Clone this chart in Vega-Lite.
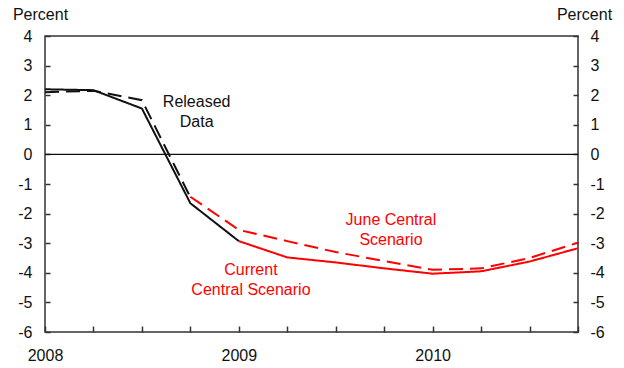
{
  "$schema": "https://vega.github.io/schema/vega-lite/v6.json",
  "width": 533,
  "height": 296,
  "autosize": {"type": "none"},
  "padding": {"left": 45, "top": 36, "right": 46, "bottom": 36},
  "background": "white",
  "config": {
    "font": "Liberation Sans",
    "view": {"stroke": "#333333", "strokeWidth": 1.5},
    "axis": {"grid": false, "domain": false, "labelFont": "Liberation Sans", "labelFontSize": 16, "labelColor": "#111111", "tickColor": "#333333", "tickWidth": 1.5, "titleFont": "Liberation Sans", "titleFontSize": 16, "titleFontWeight": "normal", "titleColor": "#111111"}
  },
  "datasets": {
    "lines": [
      {"series": "Released", "q": 0, "value": 2.2},
      {"series": "Released", "q": 1, "value": 2.17},
      {"series": "Released", "q": 2, "value": 1.55},
      {"series": "Released", "q": 3, "value": -1.65},
      {"series": "Released", "q": 4, "value": -2.93},
      {"series": "Released (June)", "q": 0, "value": 2.1},
      {"series": "Released (June)", "q": 1, "value": 2.15},
      {"series": "Released (June)", "q": 2, "value": 1.83},
      {"series": "Released (June)", "q": 3, "value": -1.45},
      {"series": "Current Central Scenario", "q": 4, "value": -2.93},
      {"series": "Current Central Scenario", "q": 5, "value": -3.48},
      {"series": "Current Central Scenario", "q": 6, "value": -3.65},
      {"series": "Current Central Scenario", "q": 7, "value": -3.85},
      {"series": "Current Central Scenario", "q": 8, "value": -4.03},
      {"series": "Current Central Scenario", "q": 9, "value": -3.95},
      {"series": "Current Central Scenario", "q": 10, "value": -3.62},
      {"series": "Current Central Scenario", "q": 11, "value": -3.17},
      {"series": "June Central Scenario", "q": 3, "value": -1.43},
      {"series": "June Central Scenario", "q": 4, "value": -2.55},
      {"series": "June Central Scenario", "q": 5, "value": -2.93},
      {"series": "June Central Scenario", "q": 6, "value": -3.3},
      {"series": "June Central Scenario", "q": 7, "value": -3.6},
      {"series": "June Central Scenario", "q": 8, "value": -3.9},
      {"series": "June Central Scenario", "q": 9, "value": -3.85},
      {"series": "June Central Scenario", "q": 10, "value": -3.5},
      {"series": "June Central Scenario", "q": 11, "value": -2.98}
    ],
    "blackLabels": [
      {"q": 3.13, "value": 1.78, "label": "Released\nData"}
    ],
    "redLabels": [
      {"q": 7.14, "value": -2.2, "label": "June Central\nScenario"},
      {"q": 4.25, "value": -3.9, "label": "Current\nCentral Scenario"}
    ],
    "zero": [{"value": 0}]
  },
  "resolve": {"axis": {"y": "independent"}},
  "layer": [
    {
      "data": {"name": "zero"},
      "mark": {"type": "rule", "color": "#111111", "strokeWidth": 1.3},
      "encoding": {
        "y": {"field": "value", "type": "quantitative", "scale": {"domain": [-6, 4], "nice": false, "zero": false},
          "axis": {"orient": "left", "values": [-6, -5, -4, -3, -2, -1, 0, 1, 2, 3, 4], "tickSize": -5, "labelPadding": 18,
            "labelExpr": "datum.value < 0 ? '-' + abs(datum.value) : '' + datum.value",
            "title": "Percent", "titleAngle": 0, "titleAlign": "center", "titleBaseline": "middle", "titleX": -5, "titleY": -22}}
      }
    },
    {
      "data": {"name": "lines"},
      "mark": {"type": "line", "strokeWidth": 2},
      "encoding": {
        "x": {"field": "q", "type": "quantitative", "scale": {"domain": [0, 11], "nice": false, "zero": false},
          "axis": {"orient": "bottom", "values": [0, 1, 2, 3, 4, 5, 6, 7, 8, 9, 10, 11], "tickSize": -6, "labelPadding": 21, "title": null,
            "labelExpr": "datum.value == 0 ? '2008' : datum.value == 4 ? '2009' : datum.value == 8 ? '2010' : ''", "labelFlush": false}},
        "y": {"field": "value", "type": "quantitative", "scale": {"domain": [-6, 4], "nice": false, "zero": false},
          "axis": {"orient": "right", "values": [-6, -5, -4, -3, -2, -1, 0, 1, 2, 3, 4], "tickSize": -5, "labelPadding": 17,
            "labelExpr": "datum.value < 0 ? '-' + abs(datum.value) : '' + datum.value",
            "title": "Percent", "titleAngle": 0, "titleAlign": "center", "titleBaseline": "middle", "titleX": 6, "titleY": -22}},
        "color": {"field": "series", "type": "nominal", "legend": null,
          "scale": {"domain": ["Released", "Released (June)", "Current Central Scenario", "June Central Scenario"], "range": ["#111111", "#111111", "#ff0000", "#ff0000"]}},
        "strokeDash": {"field": "series", "type": "nominal", "legend": null,
          "scale": {"domain": ["Released", "Released (June)", "Current Central Scenario", "June Central Scenario"], "range": [[1, 0], [14, 7], [1, 0], [14, 7]]}}
      }
    },
    {
      "data": {"name": "blackLabels"},
      "mark": {"type": "text", "font": "Liberation Sans", "fontSize": 16, "color": "#111111", "lineBreak": "\n", "lineHeight": 20, "align": "center", "baseline": "middle"},
      "encoding": {
        "x": {"field": "q", "type": "quantitative"},
        "y": {"field": "value", "type": "quantitative", "axis": null},
        "text": {"field": "label"}
      }
    },
    {
      "data": {"name": "redLabels"},
      "mark": {"type": "text", "font": "Liberation Sans", "fontSize": 16, "color": "#ff0000", "lineBreak": "\n", "lineHeight": 20, "align": "center", "baseline": "middle"},
      "encoding": {
        "x": {"field": "q", "type": "quantitative"},
        "y": {"field": "value", "type": "quantitative", "axis": null},
        "text": {"field": "label"}
      }
    }
  ]
}
